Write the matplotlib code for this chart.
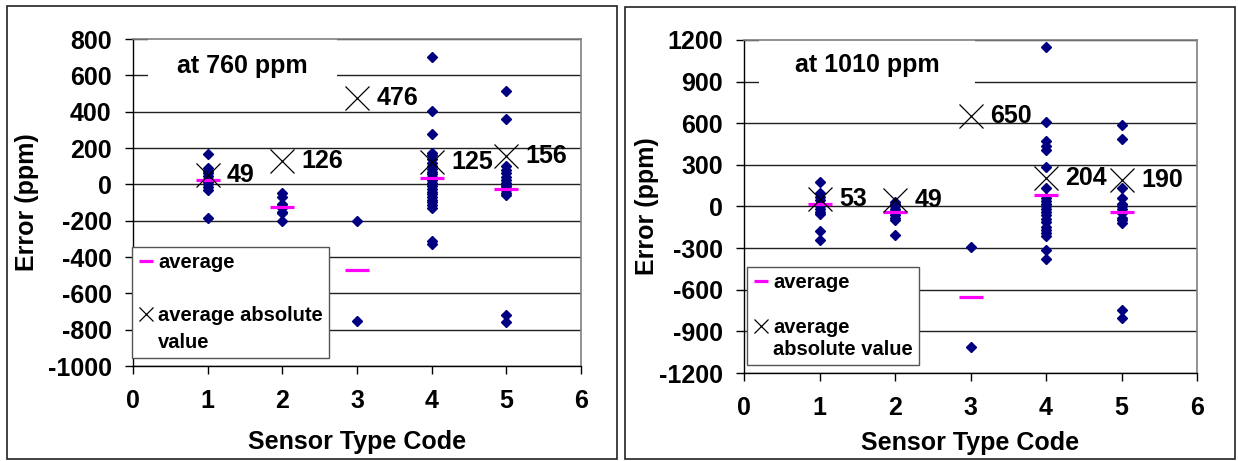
import matplotlib
matplotlib.use("Agg")
import matplotlib.pyplot as plt
from matplotlib.lines import Line2D
from matplotlib.patches import Rectangle

plt.rcParams['font.family'] = ['Liberation Sans', 'DejaVu Sans']
plt.rcParams['font.weight'] = 'bold'

# ---------------- data ----------------
type_codes = [1, 2, 3, 4, 5]

# at 760 ppm
left_t1 = [166, 90, 75, 60, 45, 30, 15, 0, -15, -30, -186]
left_t2 = [-50, -70, -110, -120, -130, -150, -160, -200]
left_t3 = [-200, -755]
left_t4 = [700, 403, 275, 175, 160, 140, 120, 100, 85, 70, 55, 40, 25, 10, 0,
           -10, -25, -40, -55, -70, -85, -100, -115, -130, -310, -330]
left_t5 = [516, 359, 100, 80, 60, 40, 25, 10, 0, -10, -20, -30, -45, -60, -718, -760]
left_avg = [22, -125, -470, 37, -28]
left_abs = [49, 126, 476, 125, 156]
left_title = "at 760 ppm"
left_yticks = [-1000, -800, -600, -400, -200, 0, 200, 400, 600, 800]

# at 1010 ppm
right_t1 = [175, 95, 70, 45, 20, 0, -20, -40, -55, -173, -238]
right_t2 = [30, 15, 0, -15, -30, -45, -60, -80, -100, -209]
right_t3 = [-290, -1010]
right_t4 = [1151, 610, 471, 435, 406, 286, 130, 60, 40, 20, 0, -20, -40, -60, -90,
            -110, -150, -170, -190, -215, -317, -375]
right_t5 = [584, 490, 135, 60, 20, 0, -20, -50, -80, -100, -120, -743, -800]
right_avg = [19, -38, -651, 82, -38]
right_abs = [53, 49, 650, 204, 190]
right_title = "at 1010 ppm"
right_yticks = [-1200, -900, -600, -300, 0, 300, 600, 900, 1200]

xticks = [0, 1, 2, 3, 4, 5, 6]
xlabel = "Sensor Type Code"
ylabel = "Error (ppm)"

W, H = 1238, 461
fig = plt.figure(figsize=(W / 100, H / 100), dpi=100)

# panel frames
for x0, x1, y0, y1 in [(7, 617, 6, 459), (625, 1235, 7, 459)]:
    fig.add_artist(Rectangle((x0 / W, 1 - y1 / H), (x1 - x0) / W, (y1 - y0) / H,
                             transform=fig.transFigure, fill=False,
                             edgecolor='#222222', lw=1.2))

FS = 18
LFS = 14.5


def panel(rect, groups, avg, absv, title, title_xy, title_spaces, yticks, leg_anchor,
          leg_labels, leg_spacing, ylab_x, xlab_y):
    ax = fig.add_axes(rect)
    for code, vals in zip(type_codes, groups):
        ax.plot([code] * len(vals), vals, ls='none', marker='D', ms=4.6,
                color='#000080', zorder=3, clip_on=False)
    ax.plot(type_codes, avg, ls='none', marker='_', ms=17, mew=2.3,
            color='#FF00FF', zorder=4)
    ax.plot(type_codes, absv, ls='none', marker='x', ms=17, mew=0.9,
            color='black', zorder=5)
    for code, v in zip(type_codes, absv):
        ax.annotate(str(v), xy=(code, v), xytext=(14, 0), textcoords='offset points',
                    ha='left', va='center', fontsize=FS, fontweight='bold', zorder=6)
    pad = " " * title_spaces
    ax.text(title_xy[0], title_xy[1], pad + title + pad, ha='center', va='center',
            fontsize=FS, fontweight='bold', zorder=2.2,
            bbox=dict(facecolor='white', edgecolor='none', boxstyle='square,pad=0.6'))
    ax.set_xlim(0, 6)
    ax.set_ylim(yticks[0], yticks[-1])
    ax.set_xticks(xticks)
    ax.set_yticks(yticks)
    ax.set_xticklabels([str(t) for t in xticks], fontsize=FS, fontweight='bold')
    ax.set_yticklabels([str(t) for t in yticks], fontsize=FS, fontweight='bold')
    ax.tick_params(axis='y', direction='out', length=5.8, width=1, pad=9.5)
    ax.tick_params(axis='x', direction='out', length=5.8, width=1, pad=11)
    ax.yaxis.grid(True, color='#202020', lw=1)
    ax.set_axisbelow(True)
    for s in ['left', 'bottom']:
        ax.spines[s].set_color('black')
        ax.spines[s].set_linewidth(1)
    for s in ['top', 'right']:
        ax.spines[s].set_color('#808080')
        ax.spines[s].set_linewidth(1.2)
    ax.set_xlabel(xlabel, fontsize=FS, fontweight='bold')
    ax.set_ylabel(ylabel, fontsize=FS, fontweight='bold')
    ax.xaxis.set_label_coords(0.5, xlab_y)
    ax.xaxis.label.set_va('center')
    ax.yaxis.set_label_coords(ylab_x, 0.5)
    ax.yaxis.label.set_va('center')

    handles = [
        Line2D([], [], ls='none', marker='_', ms=10, mew=2.3, color='#FF00FF'),
        Line2D([], [], ls='none'),
        Line2D([], [], ls='none', marker='x', ms=10, mew=0.9, color='black'),
        Line2D([], [], ls='none'),
    ]
    leg = ax.legend(handles, leg_labels, loc='upper left', bbox_to_anchor=leg_anchor,
                    borderaxespad=0, fancybox=False, shadow=False, framealpha=1,
                    edgecolor='#555555', prop={'size': LFS, 'weight': 'bold'},
                    handlelength=0.75, handletextpad=0.25, borderpad=0.3,
                    labelspacing=leg_spacing, numpoints=1)
    leg.get_frame().set_linewidth(1)
    leg.set_zorder(7)
    return ax


panel([133 / W, 1 - 366 / H, 448 / W, 327 / H],
      [left_t1, left_t2, left_t3, left_t4, left_t5], left_avg, left_abs,
      left_title, (1.466, 652), 2, left_yticks, (-0.002, 0.364),
      ["average", " ", "average absolute", "value"], 0.38, -0.237, -0.232)

panel([744 / W, 1 - 373 / H, 453 / W, 333 / H],
      [right_t1, right_t2, right_t3, right_t4, right_t5], right_avg, right_abs,
      right_title, (1.63, 1017), 3, right_yticks, (0.0066, 0.318),
      ["average", " ", "average", "absolute value"], 0.17, -0.214, -0.21)

fig.savefig("out.png", dpi=100)
